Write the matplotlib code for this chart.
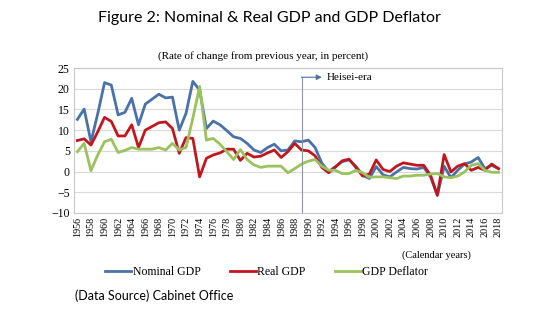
import matplotlib.pyplot as plt

# Data
years = list(range(1956, 2019))
nominal = [12.6, 15.1, 7.2, 14.0, 21.5, 20.9, 13.7, 14.3, 17.7, 11.3,
           16.3, 17.5, 18.7, 17.8, 18.0, 10.0, 14.1, 21.8, 19.7, 10.4,
           12.2, 11.3, 9.9, 8.4, 8.0, 6.8, 5.2, 4.6, 5.8, 6.6,
           5.0, 5.2, 7.4, 7.2, 7.6, 5.8, 2.0, 0.0, 1.2, 2.4,
           2.8, 1.3, -0.9, -1.7, 1.2, -0.8, -1.3, -0.1, 1.0, 0.7,
           0.6, 1.0, -1.3, -5.8, 1.3, -1.5, 0.3, 1.8, 2.3, 3.4,
           0.7, 1.5, 0.7]
real = [7.5, 7.9, 6.4, 9.6, 13.1, 12.1, 8.6, 8.6, 11.3, 5.8,
        10.0, 10.9, 11.8, 12.0, 10.4, 4.4, 8.2, 8.0, -1.3, 3.2,
        4.0, 4.5, 5.4, 5.4, 2.7, 4.4, 3.5, 3.7, 4.5, 5.2,
        3.4, 4.8, 6.8, 5.2, 5.0, 3.8, 1.0, -0.3, 1.1, 2.6,
        3.0, 1.0, -1.1, -0.6, 2.8, 0.5, 0.0, 1.3, 2.1, 1.8,
        1.5, 1.5, -0.9, -5.7, 4.1, -0.1, 1.3, 1.9, 0.3, 1.0,
        0.3, 1.8, 0.7]
deflator = [4.8, 6.8, 0.2, 4.0, 7.2, 7.8, 4.6, 5.1, 5.8, 5.4,
            5.4, 5.4, 5.8, 5.2, 6.8, 5.2, 5.8, 12.9, 20.6, 7.6,
            8.0, 6.6, 4.8, 2.9, 5.3, 2.9, 1.6, 1.0, 1.3, 1.3,
            1.3, -0.3, 0.7, 1.8, 2.5, 2.9, 1.3, 0.3, 0.3, -0.5,
            -0.5, 0.3, -0.3, -1.4, -1.3, -1.3, -1.5, -1.7, -1.1, -1.1,
            -0.9, -0.9, -0.6, -0.5, -1.3, -1.5, -1.1, -0.1, 1.5, 1.9,
            0.3, -0.2, -0.2]
heisei_year = 1989

serif = 'Liberation Serif'

fig = plt.figure(figsize=(5.5, 3.23), dpi=100)
ax = fig.add_axes([0.1345, 0.341, 0.778, 0.448])

ax.plot(years, nominal, color='#4a72a6', lw=2.0, label='Nominal GDP')
ax.plot(years, real, color='#c0171e', lw=2.0, label='Real GDP')
ax.plot(years, deflator, color='#9bc25e', lw=2.0, label='GDP Deflator')

ax.set_xlim(1955.5, 2018.5)
ax.set_ylim(-10, 25)
ax.set_yticks(range(-10, 30, 5))
ax.set_xticks(years[::2])
ax.set_xticklabels([str(y) for y in years[::2]], rotation=90,
                   fontsize=7.3, family=serif)
for t in ax.get_yticklabels():
    t.set_family(serif)
    t.set_fontsize(8.5)
ax.tick_params(length=0, pad=3)
ax.grid(axis='y', color='#d9d9d9', lw=0.8)
ax.set_axisbelow(True)
for s in ax.spines.values():
    s.set_color('#c8c8c8')
    s.set_linewidth(0.8)

# Heisei-era marker
ax.plot([heisei_year, heisei_year], [-10, 22.8], color='#8a96a8', lw=0.8)
ax.annotate('', xy=(heisei_year + 3, 22.8), xytext=(heisei_year, 22.8),
            arrowprops=dict(arrowstyle='-|>', color='#4a72a6', lw=0.8,
                            mutation_scale=8, shrinkA=0, shrinkB=0))
ax.text(heisei_year + 3.7, 22.8, 'Heisei-era', family=serif, fontsize=8,
        va='center', ha='left')

# Titles and notes
fig.text(0.49, 0.945, 'Figure 2: Nominal & Real GDP and GDP Deflator',
         family='Lato', fontsize=11.5, ha='center', va='center')
fig.text(0.478, 0.826, '(Rate of change from previous year, in percent)',
         family=serif, fontsize=8, ha='center', va='center')
fig.text(0.857, 0.21, '(Calendar years)', family=serif, fontsize=7.5,
         ha='right', va='center')
fig.text(0.137, 0.083, '(Data Source) Cabinet Office', family='Lato',
         fontsize=9, ha='left', va='center')

fig.legend(loc='center', bbox_to_anchor=(0.485, 0.158), ncol=3, frameon=False,
           prop={'family': serif, 'size': 8.5}, handlelength=2.2,
           handletextpad=0.1, columnspacing=2.5)

plt.savefig('out.png', dpi=100)
